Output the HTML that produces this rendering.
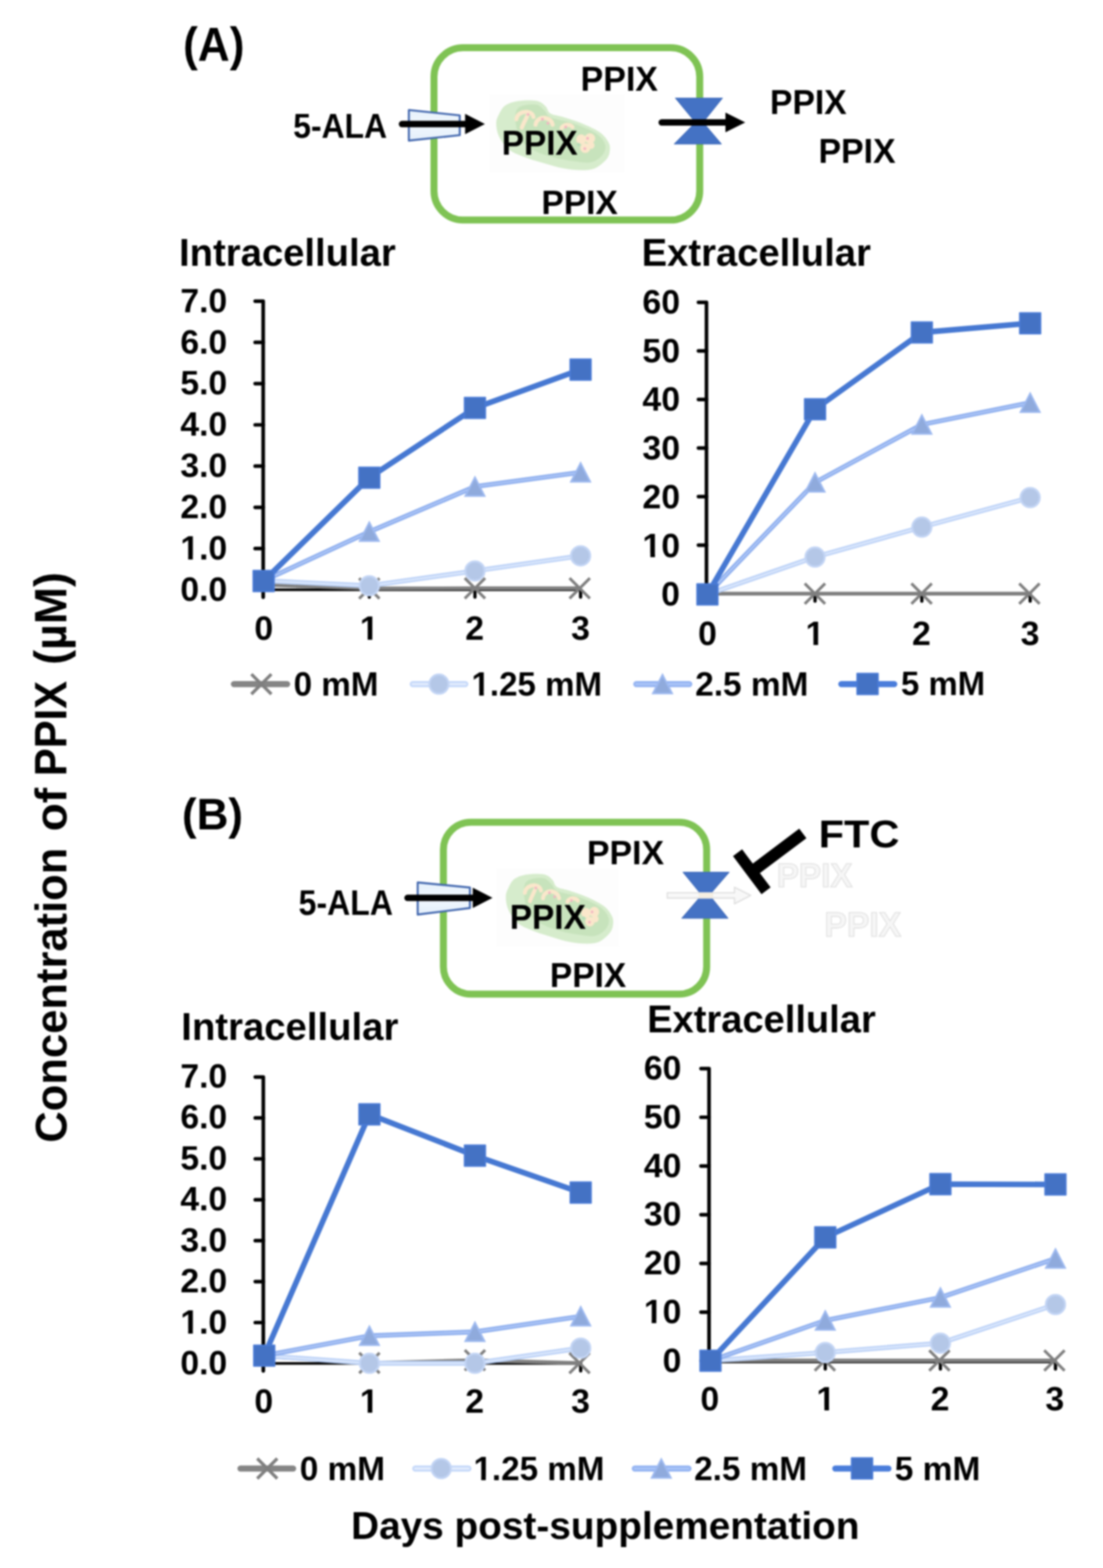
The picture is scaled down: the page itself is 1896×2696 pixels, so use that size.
<!DOCTYPE html>
<html lang="en">
<head>
<meta charset="utf-8">
<title>Concentration of PPIX - intracellular and extracellular</title>
<style>
html,body{margin:0;padding:0;background:#fff;}
body{width:1896px;height:2696px;overflow:hidden;}
svg{display:block;filter:blur(1.5px);}
svg text{font-family:"Liberation Sans", sans-serif;font-weight:bold;}
</style>
</head>
<body>
<svg width="1896" height="2696" viewBox="0 0 1896 2696">
<rect x="0" y="0" width="1896" height="2696" fill="#FFFFFF"/>
<defs><clipPath id="one" clipPathUnits="userSpaceOnUse"><path clip-rule="evenodd" d="M-10 -70 H300 V30 H-10 Z M2.15 -6.42 H13.54 V6 H2.15 Z M21.50 -6.42 H32.14 V6 H21.50 Z"/></clipPath><linearGradient id="trapg" x1="0" y1="0" x2="0" y2="1"><stop offset="0" stop-color="#E6F1FB"/><stop offset="0.5" stop-color="#F1F7FD"/><stop offset="1" stop-color="#E3EEFA"/></linearGradient></defs>
<text transform="translate(113.60 1961.60) rotate(-90) translate(-3.07 0) scale(0.9784 1)" font-size="76.50">Concentration</text>
<text transform="translate(113.60 1426.20) rotate(-90) translate(-3.08 0) scale(1.0322 1)" font-size="76.50">of</text>
<text transform="translate(113.60 1329.70) rotate(-90) translate(-4.80 0) scale(0.9206 1)" font-size="78.00">PPIX</text>
<text transform="translate(113.60 1139.20) rotate(-90) translate(-3.82 0) scale(0.9972 1)" font-size="77.00">(µM)</text>
<text transform="translate(314.82 104.30) scale(0.9358 1)" font-size="81.11" fill="#000" >(A)</text>
<text transform="translate(503.91 236.80) scale(0.9139 1)" font-size="60.03" fill="#000" >5-ALA</text>
<rect x="842" y="162" width="232" height="134" fill="#FDFDFD"/>
<g transform="translate(853 0) scale(1.0 1) translate(-853 0)">
<path d="M853.0 212.0 C853.0 205.5 855.3 201.2 858.0 196.0 C860.7 190.8 863.3 184.8 869.0 181.0 C874.7 177.2 883.0 174.8 892.0 173.5 C901.0 172.2 915.3 171.9 923.0 173.5 C930.7 175.1 934.2 179.4 938.0 183.0 C941.8 186.6 940.8 191.9 946.0 195.0 C951.2 198.1 960.0 198.7 969.0 201.5 C978.0 204.3 989.7 207.7 1000.0 212.0 C1010.3 216.3 1023.5 222.3 1031.0 227.5 C1038.5 232.7 1042.1 238.2 1045.0 243.0 C1047.9 247.8 1048.8 251.1 1048.5 256.0 C1048.2 260.9 1047.7 267.0 1043.5 272.5 C1039.3 278.0 1030.8 285.7 1023.5 289.0 C1016.2 292.3 1009.1 292.4 1000.0 292.5 C990.9 292.6 979.3 291.3 969.0 289.5 C958.7 287.7 948.3 284.4 938.0 281.5 C927.7 278.6 917.3 275.9 907.0 272.0 C896.7 268.1 884.2 264.2 876.0 258.0 C867.8 251.8 861.8 242.7 858.0 235.0 C854.2 227.3 853.0 218.5 853.0 212.0 Z" fill="#D6ECCC"/>
<path d="M886.0 196.0 C887.2 189.8 889.0 185.7 895.0 183.0 C901.0 180.3 915.2 178.8 922.0 180.0 C928.8 181.2 931.8 186.3 936.0 190.0 C940.2 193.7 938.8 198.3 947.0 202.0 C955.2 205.7 972.2 207.5 985.0 212.0 C997.8 216.5 1014.8 223.0 1024.0 229.0 C1033.2 235.0 1038.0 241.8 1040.0 248.0 C1042.0 254.2 1040.0 260.8 1036.0 266.0 C1032.0 271.2 1024.5 277.2 1016.0 279.0 C1007.5 280.8 995.3 278.3 985.0 277.0 C974.7 275.7 964.3 273.7 954.0 271.0 C943.7 268.3 932.5 265.7 923.0 261.0 C913.5 256.3 902.8 249.8 897.0 243.0 C891.2 236.2 889.8 227.8 888.0 220.0 C886.2 212.2 884.8 202.2 886.0 196.0 Z" fill="#C7E3BC"/>
<path d="M887.6 205 C889 195 899 191.5 907 192.5 C913 193.5 916.5 197 917 201 M906 200 C903 207 899 213 897 219.5 M920.6 214.4 C922 205 931 201.5 938 203 C945 204.5 949 209 950 214.4 M965.3 220.3 C968 215.5 973.5 213.8 978 214.8 C981 215.5 983 216.8 984 218.5" fill="none" stroke="#FAE7CB" stroke-width="7" stroke-linecap="round" stroke-linejoin="round"/>
<circle cx="999" cy="239.5" r="8.6" fill="#FAE7CB"/><circle cx="1014" cy="238" r="9" fill="#FAE7CB"/><circle cx="1006" cy="254.5" r="8.6" fill="#FAE7CB"/><circle cx="1016" cy="250" r="6" fill="#FAE7CB"/>
<circle cx="907.6" cy="196.8" r="2.4" fill="#F3B4C2"/>
<circle cx="932.4" cy="205" r="2.4" fill="#F3B4C2"/>
<circle cx="941.8" cy="212" r="2.4" fill="#F3B4C2"/>
<circle cx="972.4" cy="218.5" r="2.4" fill="#F3B4C2"/>
<circle cx="1010" cy="238" r="2.4" fill="#F3B4C2"/>
<circle cx="1005.3" cy="255.6" r="2.4" fill="#F3B4C2"/>
<circle cx="994.7" cy="248.5" r="2.8" fill="#B4DCB8"/>
</g>
<rect x="746" y="82" width="456.79999999999995" height="296.3" rx="50" ry="50" fill="none" stroke="#7FC354" stroke-width="12"/>
<path d="M702.8 189.1 L790.3 198.4 L790.3 232.4 L702.8 241.7 Z" fill="url(#trapg)" stroke="#4267AE" stroke-width="3.4" stroke-linejoin="round"/>
<path d="M691.0 213.3 H801.5" stroke="#000" stroke-width="11" stroke-linecap="round" fill="none"/>
<path d="M833.5 213.3 L799.5 195.8 V230.8 Z" fill="#000"/>
<path d="M1161 168.5 H1242 L1208.5 210.5 L1240 247.6 H1159 L1195.5 210.5 Z" fill="#4472C4" stroke="#3F6AB8" stroke-width="1.2" stroke-linejoin="round"/>
<path d="M1137.5 210.5 H1249.0" stroke="#000" stroke-width="11" stroke-linecap="round" fill="none"/>
<path d="M1281 210.5 L1247 193.5 V227.5 Z" fill="#000"/>
<text transform="translate(998.10 155.70) scale(0.9859 1)" font-size="59.16" fill="#000" >PPIX</text>
<text transform="translate(862.47 266.30) scale(0.9738 1)" font-size="58.87" fill="#000" >PPIX</text>
<text transform="translate(930.74 367.50) scale(0.9915 1)" font-size="58.14" fill="#000" >PPIX</text>
<text transform="translate(1323.53 196.20) scale(0.9790 1)" font-size="59.16" fill="#000" >PPIX</text>
<text transform="translate(1407.11 279.70) scale(0.9821 1)" font-size="59.16" fill="#000" >PPIX</text>
<text transform="translate(307.80 457.20) scale(0.9881 1)" font-size="66.50" fill="#000" >Intracellular</text>
<text transform="translate(1103.11 457.20) scale(0.9866 1)" font-size="66.50" fill="#000" >Extracellular</text>
<path d="M438.6 517.8 H452.4 V1026.8" stroke="#000" stroke-width="6.2" fill="none" stroke-linejoin="round" stroke-linecap="round"/>
<path d="M438.6 588.7 H452.4" stroke="#000" stroke-width="6.2" fill="none" stroke-linecap="round"/>
<path d="M438.6 659.6 H452.4" stroke="#000" stroke-width="6.2" fill="none" stroke-linecap="round"/>
<path d="M438.6 730.5 H452.4" stroke="#000" stroke-width="6.2" fill="none" stroke-linecap="round"/>
<path d="M438.6 801.4 H452.4" stroke="#000" stroke-width="6.2" fill="none" stroke-linecap="round"/>
<path d="M438.6 872.3 H452.4" stroke="#000" stroke-width="6.2" fill="none" stroke-linecap="round"/>
<path d="M438.6 943.2 H452.4" stroke="#000" stroke-width="6.2" fill="none" stroke-linecap="round"/>
<path d="M438.6 1014.1 H452.4" stroke="#000" stroke-width="6.2" fill="none" stroke-linecap="round"/>
<path d="M452.4 1014.0 H998.0" stroke="#000" stroke-width="4.6" fill="none"/>
<path d="M634.8 1014.0 V1026.6" stroke="#000" stroke-width="5.6000000000000005" fill="none" stroke-linecap="round"/>
<path d="M816.4 1014.0 V1026.6" stroke="#000" stroke-width="5.6000000000000005" fill="none" stroke-linecap="round"/>
<path d="M998.0 1014.0 V1026.6" stroke="#000" stroke-width="5.6000000000000005" fill="none" stroke-linecap="round"/>
<text transform="translate(309.95 536.77)" font-size="58.0">7.0</text>
<text transform="translate(309.95 607.61)" font-size="58.0">6.0</text>
<text transform="translate(309.95 678.45)" font-size="58.0">5.0</text>
<text transform="translate(309.95 749.29)" font-size="58.0">4.0</text>
<text transform="translate(309.95 820.08)" font-size="58.0">3.0</text>
<text transform="translate(309.95 890.97)" font-size="58.0">2.0</text>
<text transform="translate(309.95 961.81)" font-size="58.0" clip-path="url(#one)">1.0</text>
<text transform="translate(309.95 1032.65)" font-size="58.0">0.0</text>
<text transform="translate(437.31 1099.77)" font-size="58.0">0</text>
<text transform="translate(618.47 1099.75)" font-size="58.0" clip-path="url(#one)">1</text>
<text transform="translate(799.63 1100.05)" font-size="58.0">2</text>
<text transform="translate(981.85 1099.72)" font-size="58.0">3</text>
<polyline points="453.2,1005.5 634.8,1011.8 816.4,1011.5 996.5,1011.5" fill="none" stroke="#7F7F7F" stroke-width="6.4" stroke-linejoin="round" stroke-linecap="butt" />
<path d="M617.3 994.3 L652.3 1029.3 M617.3 1029.3 L652.3 994.3" stroke="#7F7F7F" stroke-width="4.9" fill="none" stroke-linecap="butt"/>
<path d="M798.9 994.0 L833.9 1029.0 M798.9 1029.0 L833.9 994.0" stroke="#7F7F7F" stroke-width="4.9" fill="none" stroke-linecap="butt"/>
<path d="M979.0 994.0 L1014.0 1029.0 M979.0 1029.0 L1014.0 994.0" stroke="#7F7F7F" stroke-width="4.9" fill="none" stroke-linecap="butt"/>
<polyline points="453.2,998.5 634.8,1007.2 816.4,981.7 998.0,955.7" fill="none" stroke="#BBD1F7" stroke-width="8.4" stroke-linejoin="round" stroke-linecap="round" />
<polyline points="453.2,998.5 634.8,1007.2 816.4,981.7 998.0,955.7" fill="none" stroke="#DCE8FC" stroke-width="3.0" stroke-linejoin="round" stroke-linecap="round" />
<circle cx="634.8" cy="1007.2" r="16.5" fill="#B4C7E7" stroke="#C3D5F5" stroke-width="3.5"/>
<circle cx="816.4" cy="981.7" r="16.5" fill="#B4C7E7" stroke="#C3D5F5" stroke-width="3.5"/>
<circle cx="998.0" cy="955.7" r="16.5" fill="#B4C7E7" stroke="#C3D5F5" stroke-width="3.5"/>
<polyline points="453.2,998.5 634.8,914.3 816.4,836.7 998.0,812.2" fill="none" stroke="#8DAEEE" stroke-width="8.4" stroke-linejoin="round" stroke-linecap="round" />
<polyline points="453.2,998.5 634.8,914.3 816.4,836.7 998.0,812.2" fill="none" stroke="#AEC6F6" stroke-width="2.8" stroke-linejoin="round" stroke-linecap="round" />
<path d="M634.8 898.3 L651.3 930.3 H618.3 Z" fill="#8FAADC" stroke="#9DB9F0" stroke-width="3" stroke-linejoin="miter"/>
<path d="M816.4 820.7 L832.9 852.7 H799.9 Z" fill="#8FAADC" stroke="#9DB9F0" stroke-width="3" stroke-linejoin="miter"/>
<path d="M998.0 796.2 L1014.5 828.2 H981.5 Z" fill="#8FAADC" stroke="#9DB9F0" stroke-width="3" stroke-linejoin="miter"/>
<polyline points="453.2,999.0 634.8,821.3 816.4,701.4 998.0,635.5" fill="none" stroke="#4678D2" stroke-width="9.6" stroke-linejoin="round" stroke-linecap="round" />
<rect x="435.3" y="981.1" width="35.8" height="35.8" fill="#4472C4" stroke="#4A7BD6" stroke-width="2.5" stroke-linejoin="round"/>
<rect x="616.9" y="803.4" width="35.8" height="35.8" fill="#4472C4" stroke="#4A7BD6" stroke-width="2.5" stroke-linejoin="round"/>
<rect x="798.5" y="683.5" width="35.8" height="35.8" fill="#4472C4" stroke="#4A7BD6" stroke-width="2.5" stroke-linejoin="round"/>
<rect x="980.1" y="617.6" width="35.8" height="35.8" fill="#4472C4" stroke="#4A7BD6" stroke-width="2.5" stroke-linejoin="round"/>
<path d="M1200.6 519.8 H1214.4 V1033.6" stroke="#000" stroke-width="6.2" fill="none" stroke-linejoin="round" stroke-linecap="round"/>
<path d="M1200.6 603.3 H1214.4" stroke="#000" stroke-width="6.2" fill="none" stroke-linecap="round"/>
<path d="M1200.6 686.8 H1214.4" stroke="#000" stroke-width="6.2" fill="none" stroke-linecap="round"/>
<path d="M1200.6 770.3 H1214.4" stroke="#000" stroke-width="6.2" fill="none" stroke-linecap="round"/>
<path d="M1200.6 853.8 H1214.4" stroke="#000" stroke-width="6.2" fill="none" stroke-linecap="round"/>
<path d="M1200.6 937.3 H1214.4" stroke="#000" stroke-width="6.2" fill="none" stroke-linecap="round"/>
<path d="M1200.6 1020.8 H1214.4" stroke="#000" stroke-width="6.2" fill="none" stroke-linecap="round"/>
<path d="M1214.4 1020.8 H1770.8" stroke="#000" stroke-width="4.6" fill="none"/>
<path d="M1401.0 1020.8 V1033.4" stroke="#000" stroke-width="5.6000000000000005" fill="none" stroke-linecap="round"/>
<path d="M1584.6 1020.8 V1033.4" stroke="#000" stroke-width="5.6000000000000005" fill="none" stroke-linecap="round"/>
<path d="M1770.8 1020.8 V1033.4" stroke="#000" stroke-width="5.6000000000000005" fill="none" stroke-linecap="round"/>
<text transform="translate(1104.37 538.97)" font-size="58.0">60</text>
<text transform="translate(1104.37 622.72)" font-size="58.0">50</text>
<text transform="translate(1104.37 706.47)" font-size="58.0">40</text>
<text transform="translate(1104.37 790.17)" font-size="58.0">30</text>
<text transform="translate(1104.37 873.97)" font-size="58.0">20</text>
<text transform="translate(1104.37 957.72)" font-size="58.0" clip-path="url(#one)">10</text>
<text transform="translate(1136.62 1041.47)" font-size="58.0">0</text>
<text transform="translate(1200.11 1109.17)" font-size="58.0">0</text>
<text transform="translate(1384.77 1109.15)" font-size="58.0" clip-path="url(#one)">1</text>
<text transform="translate(1567.73 1109.45)" font-size="58.0">2</text>
<text transform="translate(1754.55 1109.12)" font-size="58.0">3</text>
<polyline points="1216.0,1020.8 1400.8,1020.8 1584.2,1020.8 1769.5,1020.8" fill="none" stroke="#7F7F7F" stroke-width="6.4" stroke-linejoin="round" stroke-linecap="butt" />
<path d="M1383.3 1003.3 L1418.3 1038.3 M1383.3 1038.3 L1418.3 1003.3" stroke="#7F7F7F" stroke-width="4.9" fill="none" stroke-linecap="butt"/>
<path d="M1566.7 1003.3 L1601.7 1038.3 M1566.7 1038.3 L1601.7 1003.3" stroke="#7F7F7F" stroke-width="4.9" fill="none" stroke-linecap="butt"/>
<path d="M1752.0 1003.3 L1787.0 1038.3 M1752.0 1038.3 L1787.0 1003.3" stroke="#7F7F7F" stroke-width="4.9" fill="none" stroke-linecap="butt"/>
<polyline points="1216.0,1022.0 1401.0,957.8 1584.6,906.3 1770.8,855.5" fill="none" stroke="#BBD1F7" stroke-width="8.4" stroke-linejoin="round" stroke-linecap="round" />
<polyline points="1216.0,1022.0 1401.0,957.8 1584.6,906.3 1770.8,855.5" fill="none" stroke="#DCE8FC" stroke-width="3.0" stroke-linejoin="round" stroke-linecap="round" />
<circle cx="1401.0" cy="957.8" r="16.5" fill="#B4C7E7" stroke="#C3D5F5" stroke-width="3.5"/>
<circle cx="1584.6" cy="906.3" r="16.5" fill="#B4C7E7" stroke="#C3D5F5" stroke-width="3.5"/>
<circle cx="1770.8" cy="855.5" r="16.5" fill="#B4C7E7" stroke="#C3D5F5" stroke-width="3.5"/>
<polyline points="1216.0,1022.0 1401.0,829.6 1584.6,730.0 1770.8,692.4" fill="none" stroke="#8DAEEE" stroke-width="8.4" stroke-linejoin="round" stroke-linecap="round" />
<polyline points="1216.0,1022.0 1401.0,829.6 1584.6,730.0 1770.8,692.4" fill="none" stroke="#AEC6F6" stroke-width="2.8" stroke-linejoin="round" stroke-linecap="round" />
<path d="M1401.0 813.6 L1417.5 845.6 H1384.5 Z" fill="#8FAADC" stroke="#9DB9F0" stroke-width="3" stroke-linejoin="miter"/>
<path d="M1584.6 714.0 L1601.1 746.0 H1568.1 Z" fill="#8FAADC" stroke="#9DB9F0" stroke-width="3" stroke-linejoin="miter"/>
<path d="M1770.8 676.4 L1787.3 708.4 H1754.3 Z" fill="#8FAADC" stroke="#9DB9F0" stroke-width="3" stroke-linejoin="miter"/>
<polyline points="1216.0,1022.0 1401.0,703.6 1584.6,571.6 1770.8,555.8" fill="none" stroke="#4678D2" stroke-width="9.6" stroke-linejoin="round" stroke-linecap="round" />
<rect x="1198.1" y="1004.1" width="35.8" height="35.8" fill="#4472C4" stroke="#4A7BD6" stroke-width="2.5" stroke-linejoin="round"/>
<rect x="1383.1" y="685.7" width="35.8" height="35.8" fill="#4472C4" stroke="#4A7BD6" stroke-width="2.5" stroke-linejoin="round"/>
<rect x="1566.7" y="553.7" width="35.8" height="35.8" fill="#4472C4" stroke="#4A7BD6" stroke-width="2.5" stroke-linejoin="round"/>
<rect x="1752.9" y="537.9" width="35.8" height="35.8" fill="#4472C4" stroke="#4A7BD6" stroke-width="2.5" stroke-linejoin="round"/>
<path d="M402.1 1176.3 H493.6" stroke="#858585" stroke-width="10.5" stroke-linecap="round" fill="none"/>
<path d="M432.1 1159.1 L466.5 1193.5 M432.1 1193.5 L466.5 1159.1" stroke="#7F7F7F" stroke-width="5.5" fill="none" stroke-linecap="butt"/>
<path d="M709.5 1176.3 H799.8" stroke="#C3D7F9" stroke-width="10.5" stroke-linecap="round" fill="none"/>
<path d="M709.3 1176.3 H800.0" stroke="#E2ECFD" stroke-width="4" stroke-linecap="round" fill="none"/>
<circle cx="754.5" cy="1176.3" r="16.5" fill="#B4C7E7" stroke="#C3D5F5" stroke-width="3.5"/>
<path d="M1093.8 1176.3 H1184.8" stroke="#93B3F2" stroke-width="10.5" stroke-linecap="round" fill="none"/>
<path d="M1093.6 1176.3 H1185.0" stroke="#ABC5F7" stroke-width="3.6" stroke-linecap="round" fill="none"/>
<path d="M1138.8 1160.3 L1155.3 1192.3 H1122.3 Z" fill="#8FAADC" stroke="#9DB9F0" stroke-width="3" stroke-linejoin="miter"/>
<path d="M1446.2 1176.3 H1537.2" stroke="#4A7DDB" stroke-width="10.5" stroke-linecap="round" fill="none"/>
<rect x="1473.3" y="1158.0" width="36" height="36" fill="#4472C4" stroke="#4A7BD6" stroke-width="2.5" stroke-linejoin="round"/>
<text transform="translate(504.74 1195.57) scale(0.9839 1)" font-size="58.0">0 mM</text>
<text transform="translate(810.51 1195.57) scale(0.9799 1)" font-size="58.0" clip-path="url(#one)">1.25 mM</text>
<text transform="translate(1195.01 1195.57) scale(0.9898 1)" font-size="58.0">2.5 mM</text>
<text transform="translate(1548.76 1195.27) scale(0.9755 1)" font-size="58.0">5 mM</text>
<text transform="translate(312.73 1426.30) scale(1.0011 1)" font-size="75.58" fill="#000" >(B)</text>
<text transform="translate(513.31 1573.00) scale(0.9021 1)" font-size="61.05" fill="#000" >5-ALA</text>
<rect x="853.4" y="1493" width="210.60000000000002" height="135" fill="#FDFDFD"/>
<g transform="translate(869.5 1330) scale(0.944 1) translate(-853 0)">
<path d="M853.0 212.0 C853.0 205.5 855.3 201.2 858.0 196.0 C860.7 190.8 863.3 184.8 869.0 181.0 C874.7 177.2 883.0 174.8 892.0 173.5 C901.0 172.2 915.3 171.9 923.0 173.5 C930.7 175.1 934.2 179.4 938.0 183.0 C941.8 186.6 940.8 191.9 946.0 195.0 C951.2 198.1 960.0 198.7 969.0 201.5 C978.0 204.3 989.7 207.7 1000.0 212.0 C1010.3 216.3 1023.5 222.3 1031.0 227.5 C1038.5 232.7 1042.1 238.2 1045.0 243.0 C1047.9 247.8 1048.8 251.1 1048.5 256.0 C1048.2 260.9 1047.7 267.0 1043.5 272.5 C1039.3 278.0 1030.8 285.7 1023.5 289.0 C1016.2 292.3 1009.1 292.4 1000.0 292.5 C990.9 292.6 979.3 291.3 969.0 289.5 C958.7 287.7 948.3 284.4 938.0 281.5 C927.7 278.6 917.3 275.9 907.0 272.0 C896.7 268.1 884.2 264.2 876.0 258.0 C867.8 251.8 861.8 242.7 858.0 235.0 C854.2 227.3 853.0 218.5 853.0 212.0 Z" fill="#D6ECCC"/>
<path d="M886.0 196.0 C887.2 189.8 889.0 185.7 895.0 183.0 C901.0 180.3 915.2 178.8 922.0 180.0 C928.8 181.2 931.8 186.3 936.0 190.0 C940.2 193.7 938.8 198.3 947.0 202.0 C955.2 205.7 972.2 207.5 985.0 212.0 C997.8 216.5 1014.8 223.0 1024.0 229.0 C1033.2 235.0 1038.0 241.8 1040.0 248.0 C1042.0 254.2 1040.0 260.8 1036.0 266.0 C1032.0 271.2 1024.5 277.2 1016.0 279.0 C1007.5 280.8 995.3 278.3 985.0 277.0 C974.7 275.7 964.3 273.7 954.0 271.0 C943.7 268.3 932.5 265.7 923.0 261.0 C913.5 256.3 902.8 249.8 897.0 243.0 C891.2 236.2 889.8 227.8 888.0 220.0 C886.2 212.2 884.8 202.2 886.0 196.0 Z" fill="#C7E3BC"/>
<path d="M887.6 205 C889 195 899 191.5 907 192.5 C913 193.5 916.5 197 917 201 M906 200 C903 207 899 213 897 219.5 M920.6 214.4 C922 205 931 201.5 938 203 C945 204.5 949 209 950 214.4 M965.3 220.3 C968 215.5 973.5 213.8 978 214.8 C981 215.5 983 216.8 984 218.5" fill="none" stroke="#FAE7CB" stroke-width="7" stroke-linecap="round" stroke-linejoin="round"/>
<circle cx="999" cy="239.5" r="8.6" fill="#FAE7CB"/><circle cx="1014" cy="238" r="9" fill="#FAE7CB"/><circle cx="1006" cy="254.5" r="8.6" fill="#FAE7CB"/><circle cx="1016" cy="250" r="6" fill="#FAE7CB"/>
<circle cx="907.6" cy="196.8" r="2.4" fill="#F3B4C2"/>
<circle cx="932.4" cy="205" r="2.4" fill="#F3B4C2"/>
<circle cx="941.8" cy="212" r="2.4" fill="#F3B4C2"/>
<circle cx="972.4" cy="218.5" r="2.4" fill="#F3B4C2"/>
<circle cx="1010" cy="238" r="2.4" fill="#F3B4C2"/>
<circle cx="1005.3" cy="255.6" r="2.4" fill="#F3B4C2"/>
<circle cx="994.7" cy="248.5" r="2.8" fill="#B4DCB8"/>
</g>
<rect x="762.2" y="1413.8" width="452.5" height="295.4000000000001" rx="47" ry="47" fill="none" stroke="#7FC354" stroke-width="12"/>
<path d="M718 1517.3 L807.8 1526 L807.8 1561.3 L718 1572.5 Z" fill="url(#trapg)" stroke="#4267AE" stroke-width="3.4" stroke-linejoin="round"/>
<path d="M700.5 1543.8 H814.6" stroke="#000" stroke-width="11" stroke-linecap="round" fill="none"/>
<path d="M846.6 1543.8 L812.6 1526.3 V1561.3 Z" fill="#000"/>
<path d="M1174 1499.6 H1253.4 L1219.3 1539 L1251.4 1579 H1172 L1206.3 1539 Z" fill="#4472C4" stroke="#3F6AB8" stroke-width="1.2" stroke-linejoin="round"/>
<path d="M1147 1535 H1262.5 V1525.5 L1290.5 1539.6 L1262.5 1554 V1544.2 H1147 Z" fill="#F8F8F8" stroke="#DEDEDE" stroke-width="2.2" stroke-linejoin="round"/>
<rect x="1201" y="1535.8" width="25" height="7.6" fill="#F6EFE2"/>
<path d="M1380 1433 L1292.3 1498.9" stroke="#000" stroke-width="20.5" fill="none"/>
<path d="M1267.8 1466.2 L1316.8 1531.7" stroke="#000" stroke-width="19.5" fill="none"/>
<text transform="translate(1407.23 1456.60) scale(1.0605 1)" font-size="67.30" fill="#000" >FTC</text>
<text transform="translate(1009.11 1486.00) scale(1.0043 1)" font-size="57.85" fill="#000" >PPIX</text>
<text transform="translate(876.16 1597.00) scale(0.9762 1)" font-size="58.87" fill="#000" >PPIX</text>
<text transform="translate(945.35 1697.00) scale(0.9850 1)" font-size="58.43" fill="#000" >PPIX</text>
<text transform="translate(1335.17 1525.00) scale(0.9837 1)" font-size="58.14" fill="#F6F6F6" stroke="#E0E0E0" stroke-width="1.6">PPIX</text>
<text transform="translate(1417.12 1610.30) scale(0.9895 1)" font-size="58.58" fill="#F6F6F6" stroke="#E0E0E0" stroke-width="1.6">PPIX</text>
<text transform="translate(311.60 1788.00) scale(0.9900 1)" font-size="66.50" fill="#000" >Intracellular</text>
<text transform="translate(1112.42 1775.00) scale(0.9846 1)" font-size="66.50" fill="#000" >Extracellular</text>
<path d="M438.8 1851.8 H452.6 V2357.1" stroke="#000" stroke-width="6.2" fill="none" stroke-linejoin="round" stroke-linecap="round"/>
<path d="M438.8 1922.2 H452.6" stroke="#000" stroke-width="6.2" fill="none" stroke-linecap="round"/>
<path d="M438.8 1992.5 H452.6" stroke="#000" stroke-width="6.2" fill="none" stroke-linecap="round"/>
<path d="M438.8 2062.9 H452.6" stroke="#000" stroke-width="6.2" fill="none" stroke-linecap="round"/>
<path d="M438.8 2133.2 H452.6" stroke="#000" stroke-width="6.2" fill="none" stroke-linecap="round"/>
<path d="M438.8 2203.6 H452.6" stroke="#000" stroke-width="6.2" fill="none" stroke-linecap="round"/>
<path d="M438.8 2274.0 H452.6" stroke="#000" stroke-width="6.2" fill="none" stroke-linecap="round"/>
<path d="M438.8 2344.3 H452.6" stroke="#000" stroke-width="6.2" fill="none" stroke-linecap="round"/>
<path d="M452.6 2344.3 H998.2" stroke="#000" stroke-width="4.6" fill="none"/>
<path d="M635.0 2344.3 V2356.9" stroke="#000" stroke-width="5.6000000000000005" fill="none" stroke-linecap="round"/>
<path d="M816.4 2344.3 V2356.9" stroke="#000" stroke-width="5.6000000000000005" fill="none" stroke-linecap="round"/>
<path d="M998.2 2344.3 V2356.9" stroke="#000" stroke-width="5.6000000000000005" fill="none" stroke-linecap="round"/>
<text transform="translate(309.95 1869.57)" font-size="58.0">7.0</text>
<text transform="translate(309.95 1940.07)" font-size="58.0">6.0</text>
<text transform="translate(309.95 2010.57)" font-size="58.0">5.0</text>
<text transform="translate(309.95 2081.07)" font-size="58.0">4.0</text>
<text transform="translate(309.95 2151.52)" font-size="58.0">3.0</text>
<text transform="translate(309.95 2222.07)" font-size="58.0">2.0</text>
<text transform="translate(309.95 2292.57)" font-size="58.0" clip-path="url(#one)">1.0</text>
<text transform="translate(309.95 2363.07)" font-size="58.0">0.0</text>
<text transform="translate(437.31 2428.77)" font-size="58.0">0</text>
<text transform="translate(618.47 2428.75)" font-size="58.0" clip-path="url(#one)">1</text>
<text transform="translate(799.63 2429.05)" font-size="58.0">2</text>
<text transform="translate(981.85 2428.72)" font-size="58.0">3</text>
<polyline points="454.2,2332.0 635.0,2343.6 816.4,2338.7 996.2,2343.8" fill="none" stroke="#7F7F7F" stroke-width="6.4" stroke-linejoin="round" stroke-linecap="butt" />
<path d="M617.5 2326.1 L652.5 2361.1 M617.5 2361.1 L652.5 2326.1" stroke="#7F7F7F" stroke-width="4.9" fill="none" stroke-linecap="butt"/>
<path d="M798.9 2321.2 L833.9 2356.2 M798.9 2356.2 L833.9 2321.2" stroke="#7F7F7F" stroke-width="4.9" fill="none" stroke-linecap="butt"/>
<path d="M978.7 2326.3 L1013.7 2361.3 M978.7 2361.3 L1013.7 2326.3" stroke="#7F7F7F" stroke-width="4.9" fill="none" stroke-linecap="butt"/>
<polyline points="454.2,2331.0 635.0,2344.0 816.4,2344.0 998.2,2318.0" fill="none" stroke="#BBD1F7" stroke-width="8.4" stroke-linejoin="round" stroke-linecap="round" />
<polyline points="454.2,2331.0 635.0,2344.0 816.4,2344.0 998.2,2318.0" fill="none" stroke="#DCE8FC" stroke-width="3.0" stroke-linejoin="round" stroke-linecap="round" />
<circle cx="635.0" cy="2344.0" r="16.5" fill="#B4C7E7" stroke="#C3D5F5" stroke-width="3.5"/>
<circle cx="816.4" cy="2344.0" r="16.5" fill="#B4C7E7" stroke="#C3D5F5" stroke-width="3.5"/>
<circle cx="998.2" cy="2318.0" r="16.5" fill="#B4C7E7" stroke="#C3D5F5" stroke-width="3.5"/>
<polyline points="454.2,2331.0 635.0,2296.8 816.4,2290.0 998.2,2263.3" fill="none" stroke="#8DAEEE" stroke-width="8.4" stroke-linejoin="round" stroke-linecap="round" />
<polyline points="454.2,2331.0 635.0,2296.8 816.4,2290.0 998.2,2263.3" fill="none" stroke="#AEC6F6" stroke-width="2.8" stroke-linejoin="round" stroke-linecap="round" />
<path d="M635.0 2280.8 L651.5 2312.8 H618.5 Z" fill="#8FAADC" stroke="#9DB9F0" stroke-width="3" stroke-linejoin="miter"/>
<path d="M816.4 2274.0 L832.9 2306.0 H799.9 Z" fill="#8FAADC" stroke="#9DB9F0" stroke-width="3" stroke-linejoin="miter"/>
<path d="M998.2 2247.3 L1014.7 2279.3 H981.7 Z" fill="#8FAADC" stroke="#9DB9F0" stroke-width="3" stroke-linejoin="miter"/>
<polyline points="454.2,2330.8 635.0,1916.0 816.4,1987.0 998.2,2050.5" fill="none" stroke="#4678D2" stroke-width="9.6" stroke-linejoin="round" stroke-linecap="round" />
<rect x="436.3" y="2312.9" width="35.8" height="35.8" fill="#4472C4" stroke="#4A7BD6" stroke-width="2.5" stroke-linejoin="round"/>
<rect x="617.1" y="1898.1" width="35.8" height="35.8" fill="#4472C4" stroke="#4A7BD6" stroke-width="2.5" stroke-linejoin="round"/>
<rect x="798.5" y="1969.1" width="35.8" height="35.8" fill="#4472C4" stroke="#4A7BD6" stroke-width="2.5" stroke-linejoin="round"/>
<rect x="980.3" y="2032.6" width="35.8" height="35.8" fill="#4472C4" stroke="#4A7BD6" stroke-width="2.5" stroke-linejoin="round"/>
<path d="M1205.0 1837.3 H1218.8 V2354.0" stroke="#000" stroke-width="6.2" fill="none" stroke-linejoin="round" stroke-linecap="round"/>
<path d="M1205.0 1921.0 H1218.8" stroke="#000" stroke-width="6.2" fill="none" stroke-linecap="round"/>
<path d="M1205.0 2004.8 H1218.8" stroke="#000" stroke-width="6.2" fill="none" stroke-linecap="round"/>
<path d="M1205.0 2088.6 H1218.8" stroke="#000" stroke-width="6.2" fill="none" stroke-linecap="round"/>
<path d="M1205.0 2172.3 H1218.8" stroke="#000" stroke-width="6.2" fill="none" stroke-linecap="round"/>
<path d="M1205.0 2256.1 H1218.8" stroke="#000" stroke-width="6.2" fill="none" stroke-linecap="round"/>
<path d="M1205.0 2339.8 H1218.8" stroke="#000" stroke-width="6.2" fill="none" stroke-linecap="round"/>
<path d="M1218.8 2341.2 H1814.3" stroke="#000" stroke-width="5.4" fill="none"/>
<path d="M1418.6 2341.2 V2353.8" stroke="#000" stroke-width="5.6000000000000005" fill="none" stroke-linecap="round"/>
<path d="M1616.5 2341.2 V2353.8" stroke="#000" stroke-width="5.6000000000000005" fill="none" stroke-linecap="round"/>
<path d="M1814.3 2341.2 V2353.8" stroke="#000" stroke-width="5.6000000000000005" fill="none" stroke-linecap="round"/>
<text transform="translate(1106.67 1856.37)" font-size="58.0">60</text>
<text transform="translate(1106.67 1940.07)" font-size="58.0">50</text>
<text transform="translate(1106.67 2023.77)" font-size="58.0">40</text>
<text transform="translate(1106.67 2107.42)" font-size="58.0">30</text>
<text transform="translate(1106.67 2191.17)" font-size="58.0">20</text>
<text transform="translate(1106.67 2274.87)" font-size="58.0" clip-path="url(#one)">10</text>
<text transform="translate(1138.92 2358.57)" font-size="58.0">0</text>
<text transform="translate(1203.91 2424.77)" font-size="58.0">0</text>
<text transform="translate(1403.57 2424.75)" font-size="58.0" clip-path="url(#one)">1</text>
<text transform="translate(1599.83 2425.05)" font-size="58.0">2</text>
<text transform="translate(1797.05 2424.72)" font-size="58.0">3</text>
<polyline points="1221.3,2339.2 1418.0,2339.2 1614.8,2339.2 1812.5,2339.2" fill="none" stroke="#7F7F7F" stroke-width="6.4" stroke-linejoin="round" stroke-linecap="butt" />
<path d="M1400.5 2321.7 L1435.5 2356.7 M1400.5 2356.7 L1435.5 2321.7" stroke="#7F7F7F" stroke-width="4.9" fill="none" stroke-linecap="butt"/>
<path d="M1597.3 2321.7 L1632.3 2356.7 M1597.3 2356.7 L1632.3 2321.7" stroke="#7F7F7F" stroke-width="4.9" fill="none" stroke-linecap="butt"/>
<path d="M1795.0 2321.7 L1830.0 2356.7 M1795.0 2356.7 L1830.0 2321.7" stroke="#7F7F7F" stroke-width="4.9" fill="none" stroke-linecap="butt"/>
<polyline points="1221.3,2339.7 1418.6,2325.5 1616.5,2309.4 1814.3,2243.0" fill="none" stroke="#BBD1F7" stroke-width="8.4" stroke-linejoin="round" stroke-linecap="round" />
<polyline points="1221.3,2339.7 1418.6,2325.5 1616.5,2309.4 1814.3,2243.0" fill="none" stroke="#DCE8FC" stroke-width="3.0" stroke-linejoin="round" stroke-linecap="round" />
<circle cx="1418.6" cy="2325.5" r="16.5" fill="#B4C7E7" stroke="#C3D5F5" stroke-width="3.5"/>
<circle cx="1616.5" cy="2309.4" r="16.5" fill="#B4C7E7" stroke="#C3D5F5" stroke-width="3.5"/>
<circle cx="1814.3" cy="2243.0" r="16.5" fill="#B4C7E7" stroke="#C3D5F5" stroke-width="3.5"/>
<polyline points="1221.3,2339.7 1418.6,2270.4 1616.5,2231.0 1814.3,2164.0" fill="none" stroke="#8DAEEE" stroke-width="8.4" stroke-linejoin="round" stroke-linecap="round" />
<polyline points="1221.3,2339.7 1418.6,2270.4 1616.5,2231.0 1814.3,2164.0" fill="none" stroke="#AEC6F6" stroke-width="2.8" stroke-linejoin="round" stroke-linecap="round" />
<path d="M1418.6 2254.4 L1435.1 2286.4 H1402.1 Z" fill="#8FAADC" stroke="#9DB9F0" stroke-width="3" stroke-linejoin="miter"/>
<path d="M1616.5 2215.0 L1633.0 2247.0 H1600.0 Z" fill="#8FAADC" stroke="#9DB9F0" stroke-width="3" stroke-linejoin="miter"/>
<path d="M1814.3 2148.0 L1830.8 2180.0 H1797.8 Z" fill="#8FAADC" stroke="#9DB9F0" stroke-width="3" stroke-linejoin="miter"/>
<polyline points="1221.3,2339.7 1418.6,2127.5 1616.5,2036.0 1814.3,2036.5" fill="none" stroke="#4678D2" stroke-width="9.6" stroke-linejoin="round" stroke-linecap="round" />
<rect x="1203.4" y="2321.8" width="35.8" height="35.8" fill="#4472C4" stroke="#4A7BD6" stroke-width="2.5" stroke-linejoin="round"/>
<rect x="1400.7" y="2109.6" width="35.8" height="35.8" fill="#4472C4" stroke="#4A7BD6" stroke-width="2.5" stroke-linejoin="round"/>
<rect x="1598.6" y="2018.1" width="35.8" height="35.8" fill="#4472C4" stroke="#4A7BD6" stroke-width="2.5" stroke-linejoin="round"/>
<rect x="1796.4" y="2018.6" width="35.8" height="35.8" fill="#4472C4" stroke="#4A7BD6" stroke-width="2.5" stroke-linejoin="round"/>
<path d="M413.4 2525 H503.9" stroke="#858585" stroke-width="10.5" stroke-linecap="round" fill="none"/>
<path d="M442.2 2507.8 L476.6 2542.2 M442.2 2542.2 L476.6 2507.8" stroke="#7F7F7F" stroke-width="5.5" fill="none" stroke-linecap="butt"/>
<path d="M713.9 2525 H805.2" stroke="#C3D7F9" stroke-width="10.5" stroke-linecap="round" fill="none"/>
<path d="M713.6 2525 H805.5" stroke="#E2ECFD" stroke-width="4" stroke-linecap="round" fill="none"/>
<circle cx="758.4" cy="2525.0" r="16.5" fill="#B4C7E7" stroke="#C3D5F5" stroke-width="3.5"/>
<path d="M1091.2 2525 H1183.5" stroke="#93B3F2" stroke-width="10.5" stroke-linecap="round" fill="none"/>
<path d="M1091.0 2525 H1183.7" stroke="#ABC5F7" stroke-width="3.6" stroke-linecap="round" fill="none"/>
<path d="M1136.7 2509.0 L1153.2 2541.0 H1120.2 Z" fill="#8FAADC" stroke="#9DB9F0" stroke-width="3" stroke-linejoin="miter"/>
<path d="M1435.8 2525 H1527.2" stroke="#4A7DDB" stroke-width="10.5" stroke-linecap="round" fill="none"/>
<rect x="1463.8" y="2506.7" width="36" height="36" fill="#4472C4" stroke="#4A7BD6" stroke-width="2.5" stroke-linejoin="round"/>
<text transform="translate(515.13 2545.47) scale(0.9896 1)" font-size="58.0">0 mM</text>
<text transform="translate(813.90 2545.47) scale(0.9835 1)" font-size="58.0" clip-path="url(#one)">1.25 mM</text>
<text transform="translate(1193.21 2545.47) scale(0.9872 1)" font-size="58.0">2.5 mM</text>
<text transform="translate(1538.03 2545.17) scale(0.9923 1)" font-size="58.0">5 mM</text>
<text transform="translate(603.54 2646.00) scale(1.0024 1)" font-size="66.50" fill="#000" >Days post-supplementation</text>
</svg>
</body>
</html>
